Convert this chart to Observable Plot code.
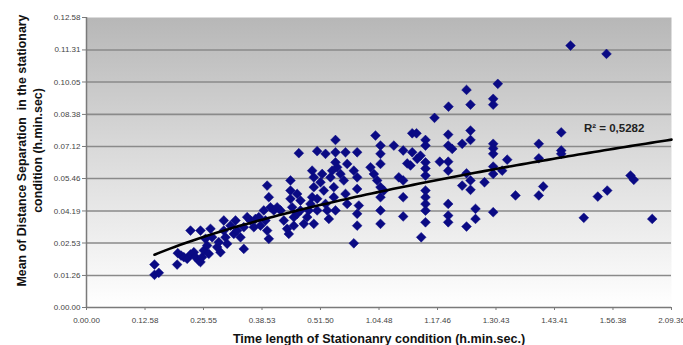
<!DOCTYPE html>
<html>
<head>
<meta charset="utf-8">
<script src="https://cdn.jsdelivr.net/npm/d3@7"></script>
<script src="https://cdn.jsdelivr.net/npm/@observablehq/plot@0.6"></script>
<style>
  html, body { margin: 0; padding: 0; background: #ffffff; }
  #chart { width: 683px; height: 345px; }
</style>
</head>
<body>
<div id="chart"></div>
<script>
// Time length of stationary condition (minutes)
const timeLength = [
  15.06, 15.06, 16.02, 20.08, 20.23, 20.97, 21.56, 22.30, 23.04, 23.78,
  24.15, 24.88, 25.25, 25.62, 25.99, 26.73, 27.10, 23.04, 25.25, 27.47,
  26.36, 27.84, 29.31, 29.68, 28.95, 30.42, 30.42, 30.79, 31.16, 31.90,
  32.64, 33.01, 33.38, 34.12, 34.85, 34.85, 35.59, 36.33, 37.07, 37.44,
  38.18, 38.55, 39.28, 39.65, 40.02, 40.39, 40.02, 40.39, 40.76, 41.50,
  42.24, 42.98, 43.72, 44.45, 44.82, 45.19, 45.19, 45.19, 45.56, 45.93,
  45.93, 46.67, 46.67, 47.41, 47.41, 48.15, 48.89, 49.25, 49.62, 49.99,
  50.36, 50.36, 49.99, 50.36, 51.10, 51.10, 51.84, 52.21, 52.58, 52.95,
  53.32, 53.69, 54.05, 54.42, 54.79, 54.79, 55.16, 55.53, 56.27, 57.01,
  57.38, 57.75, 47.04, 51.10, 52.95, 55.16, 55.16, 57.38, 59.96, 55.16,
  57.75, 59.22, 59.96, 59.96, 60.33, 59.96, 59.96, 59.22, 62.92, 63.66,
  64.39, 64.02, 65.13, 65.13, 65.13, 65.13, 65.13, 65.13, 65.13, 65.87,
  68.09, 69.19,
  77.10, 80.20, 84.19, 85.07, 90.10, 90.10, 91.12, 85.07, 72.16, 73.11,
  75.10, 75.10, 80.13, 80.13, 81.02, 83.23, 85.07, 90.10, 90.10, 90.10,
  93.20, 70.16, 72.16, 71.05, 71.78, 73.26, 73.99, 75.10, 75.10, 75.10,
  78.27, 80.13, 80.13, 84.19, 85.07, 85.07, 83.23, 88.17, 90.10, 90.10,
  92.09, 95.04, 70.16, 70.16, 70.16, 75.10, 75.10, 75.10, 75.10, 75.10,
  74.15, 80.13, 80.13, 80.13, 84.19, 86.18, 86.18, 90.10,
  107.23, 115.20, 105.17, 100.20, 100.20, 105.17, 105.17, 101.18, 100.20, 120.52,
  121.25, 115.36, 113.27, 110.17, 125.33
];
// Mean of distance separation (minutes)
const meanSeparation = [
  1.92, 1.46, 1.55, 1.92, 2.43, 2.32, 2.25, 2.18, 2.37, 2.47,
  2.25, 2.10, 2.03, 2.25, 2.55, 2.77, 2.40, 3.44, 3.44, 3.52,
  3.07, 3.14, 2.92, 2.47, 2.70, 3.89, 3.44, 3.14, 2.85, 3.66,
  3.29, 3.89, 3.44, 3.14, 2.62, 3.59, 4.04, 3.89, 3.59, 3.96,
  4.04, 3.66, 4.34, 3.89, 3.44, 3.07, 5.45, 4.93, 4.48, 4.34,
  4.48, 4.34, 3.89, 3.52, 3.29, 5.68, 5.23, 4.86, 4.48, 4.04,
  3.66, 4.19, 5.08, 4.78, 4.34, 3.74, 4.04, 4.34, 4.63, 4.93,
  5.38, 5.82, 6.12, 3.74, 4.34, 4.86, 5.60, 5.97, 5.23, 4.63,
  4.34, 3.96, 5.82, 6.12, 5.38, 4.93, 4.34, 6.27, 5.97, 5.68,
  5.08, 4.63, 6.90, 6.99, 6.87, 7.49, 6.94, 6.94, 6.94, 6.49,
  6.42, 6.12, 5.82, 5.30, 4.56, 4.19, 3.66, 2.87, 6.27, 5.97,
  5.68, 7.69, 7.24, 6.87, 6.42, 5.38, 4.93, 4.34, 3.74, 5.23,
  7.24, 5.82,
  8.48, 8.98, 9.73, 9.07, 9.33, 9.07, 10.00, 7.91, 7.79, 7.79,
  7.49, 7.24, 7.73, 7.24, 7.09, 7.32, 7.49, 7.32, 7.11, 6.87,
  6.61, 7.02, 6.94, 6.44, 6.35, 6.65, 6.79, 6.49, 6.21, 5.90,
  6.52, 6.52, 6.12, 6.00, 5.68, 5.26, 5.45, 5.60, 6.30, 5.97,
  6.12, 5.01, 5.68, 4.93, 4.07, 5.23, 4.93, 4.63, 4.33, 3.81,
  3.14, 4.63, 4.11, 3.81, 3.62, 4.41, 3.96, 4.26,
  11.71, 11.34, 7.83, 7.32, 6.67, 7.02, 6.87, 5.41, 5.01, 5.90,
  5.71, 5.23, 4.96, 4.01, 3.96
];
const xTickLabels = ["0.00.00","0.12.58","0.25.55","0.38.53","0.51.50","1.04.48","1.17.46","1.30.43","1.43.41","1.56.38","2.09.36"];
const yTickLabels = ["0.00.00","0.01.26","0.02.53","0.04.19","0.05.46","0.07.12","0.08.38","0.10.05","0.11.31","0.12.58"];
// power trendline y = a·x^b as shown in the chart (R² = 0,5282)
const trendA = 0.548;
const trendB = 0.538;
const r2Label = "R² = 0,5282";
const r2LabelPos = {x: 110.2, y: 8.0}; // minutes (data space)
const xTitle = "Time length of Stationanry condition (h.min.sec.)";
const yTitle = "Mean of Distance Separation  in the stationary\ncondition (h.min.sec)";

// parse h.min.sec labels to minutes
const toMin = s => { const [h, m, sec] = s.split(".").map(Number); return h * 60 + m + sec / 60; };
const xTicks = xTickLabels.map(toMin);
const yTicks = yTickLabels.map(toMin);
const nearest = (arr, labels) => d => labels[d3.minIndex(arr, v => Math.abs(v - d))];

const data = timeLength.map((x, i) => ({x, y: meanSeparation[i]}));

const x0 = d3.min(timeLength), x1 = xTicks[xTicks.length - 1];
const trend = d3.range(0, 101).map(k => { const x = x0 + (x1 - x0) * k / 100; return {x, y: trendA * Math.pow(x, trendB)}; });

const plot = Plot.plot({
  width: 683,
  height: 345,
  marginLeft: 86,
  marginRight: 12,
  marginTop: 17,
  marginBottom: 38,
  style: {fontFamily: "'Liberation Sans', Arial, sans-serif", fontSize: "8px", color: "#333", background: "transparent"},
  x: {domain: [0, x1], ticks: xTicks},
  y: {domain: [0, yTicks[yTicks.length - 1]], ticks: yTicks},
  marks: [
    Plot.frame({fill: "url(#bgGrad)", stroke: "none"}),
    Plot.ruleY(yTicks.slice(1, -1), {stroke: "#8a8a8a", strokeWidth: 1.6}),
    Plot.ruleX([0], {stroke: "#7a7a7a", strokeWidth: 1.5}),
    Plot.ruleY([0], {stroke: "#7a7a7a", strokeWidth: 1.5}),
    Plot.axisX({ticks: xTicks, tickFormat: nearest(xTicks, xTickLabels), tickSize: 3, tickPadding: 7, stroke: "#7a7a7a", fill: "#444", fontSize: 8, label: null}),
    Plot.axisY({ticks: yTicks, tickFormat: nearest(yTicks, yTickLabels), tickSize: 4, tickPadding: 2, stroke: "#7a7a7a", fill: "#444", fontSize: 8, label: null}),
    Plot.dot(data, {x: "x", y: "y", symbol: "diamond2", r: 4.4, fill: "#0a0a84", stroke: "#0a0a84", strokeWidth: 0.5}),
    Plot.line(trend, {x: "x", y: "y", stroke: "#000", strokeWidth: 2.6}),
    Plot.text([r2LabelPos], {x: "x", y: "y", text: () => r2Label, textAnchor: "start", fontSize: 11.5, fontWeight: "bold", fill: "#222"}),
    Plot.text([xTitle], {frameAnchor: "bottom", textAnchor: "middle", lineAnchor: "middle", dy: 31, fontSize: 12.6, fontWeight: "bold", fill: "#111"}),
    Plot.text([yTitle], {frameAnchor: "left", textAnchor: "middle", lineAnchor: "middle", rotate: -90, dx: -58, dy: -12, fontSize: 12.4, fontWeight: "bold", fill: "#111", lineHeight: 1.35})
  ]
});

const svg = d3.select(plot);
const defs = svg.insert("defs", ":first-child");
const g = defs.append("linearGradient").attr("id", "bgGrad").attr("x1", 0).attr("y1", 0).attr("x2", 0).attr("y2", 1);
g.append("stop").attr("offset", "0%").attr("stop-color", "#b7b7b7");
g.append("stop").attr("offset", "45%").attr("stop-color", "#d9d9d9");
g.append("stop").attr("offset", "100%").attr("stop-color", "#ffffff");

document.getElementById("chart").appendChild(plot);
</script>
</body>
</html>
